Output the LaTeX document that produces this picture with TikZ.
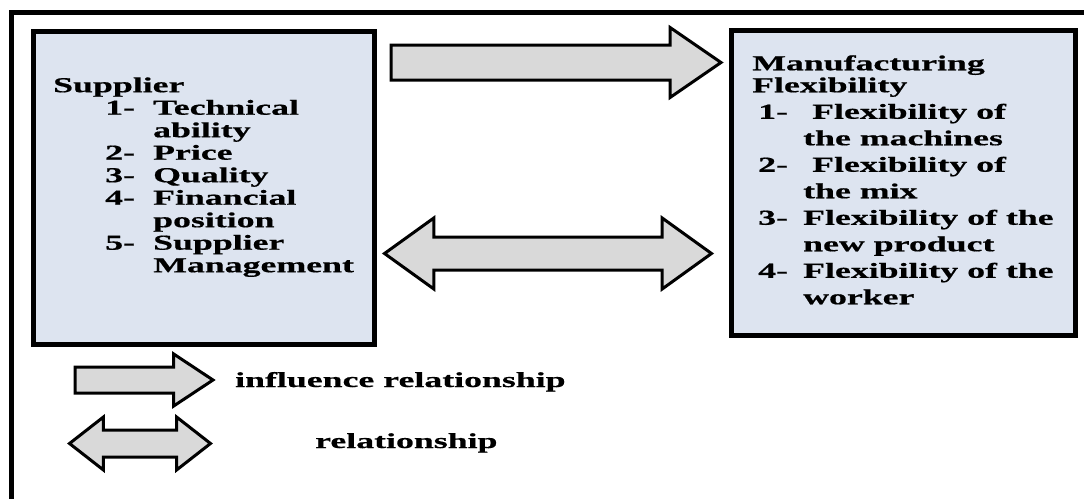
\documentclass[tikz,border=0pt]{standalone}
\usepackage{fontspec}
\setmainfont[FakeStretch=1.68, BoldFeatures={FakeBold=0.6}]{Liberation Serif}
\usepackage{array}
\usetikzlibrary{shapes.arrows}
\definecolor{boxblue}{RGB}{221,228,240}
\definecolor{arrowgray}{RGB}{217,217,217}

\begin{document}
\begin{tikzpicture}[x=1pt, y=-1pt,
  font=\bfseries\fontsize{21.3}{22.5}\selectfont,
  factorbox/.style={draw, line width=5pt, fill=boxblue, inner sep=0pt},
  listtext/.style={inner sep=0pt, anchor=north west, align=left},
  onearrow/.style={draw, line width=3pt, fill=arrowgray, single arrow,
    single arrow head indent=0pt, inner xsep=0pt, minimum width=0pt, anchor=tail},
  twoarrow/.style={draw, line width=3pt, fill=arrowgray, double arrow,
    double arrow head indent=0pt, inner xsep=0pt, minimum width=0pt}]

\useasboundingbox (0,0) rectangle (1084,498);

% outer frame (cut at right and bottom)
\draw[line width=5.5pt] (11.5,520) -- (11.5,12.5) -- (1100,12.5);

% the two factor boxes
\node[factorbox, minimum width=340.5pt, minimum height=313pt] (supplier) at (203.75,187.5) {};
\node[factorbox, minimum width=344pt, minimum height=304.5pt] (mfg) at (903,182.75) {};

\node[listtext] (suptext) at (53,76.25) {%
  \begin{tabular}{@{}p{52pt}@{}p{48pt}@{}l@{}}
  \multicolumn{3}{@{}l@{}}{Supplier}\\
  & 1- & Technical\\
  &    & ability\\
  & 2- & Price\\
  & 3- & Quality\\
  & 4- & Financial\\
  &    & position\\
  & 5- & Supplier\\
  &    & Management
  \end{tabular}};

\node[listtext, font=\bfseries\fontsize{21.3}{26.5}\selectfont] (mfgtext) at (752,51.5) {%
  \begin{tabular}{@{}p{6pt}@{}p{45pt}@{}l@{}}
  \multicolumn{3}{@{}l@{}}{Manufacturing}\\[-4.5pt]
  \multicolumn{3}{@{}l@{}}{Flexibility}\\
  & 1- & \hspace{9pt}Flexibility of\\
  &    & the machines\\
  & 2- & \hspace{9pt}Flexibility of\\
  &    & the mix\\
  & 3- & Flexibility of the\\
  &    & new product\\
  & 4- & Flexibility of the\\
  &    & worker
  \end{tabular}};

% relations between the boxes
\node[onearrow, inner ysep=16pt, single arrow head extend=17.5pt,
  single arrow tip angle=69, minimum height=330pt] (influence) at (389.5,62.5) {};
\node[twoarrow, inner ysep=15pt, double arrow head extend=19pt,
  double arrow tip angle=71.5, minimum height=327pt] (mutual) at (548,253.5) {};

% legend
\node[onearrow, inner ysep=11.5pt, single arrow head extend=13pt,
  single arrow tip angle=67, minimum height=138pt] (keyone) at (73.5,380) {};
\node[twoarrow, inner ysep=12pt, double arrow head extend=13pt,
  double arrow tip angle=76, minimum height=141pt] (keytwo) at (140,443.5) {};

\node[anchor=base west, inner sep=0pt] (keyonetext) at (235,387) {influence relationship};
\node[anchor=base west, inner sep=0pt] (keytwotext) at (315,448) {relationship};

\end{tikzpicture}
\end{document}
